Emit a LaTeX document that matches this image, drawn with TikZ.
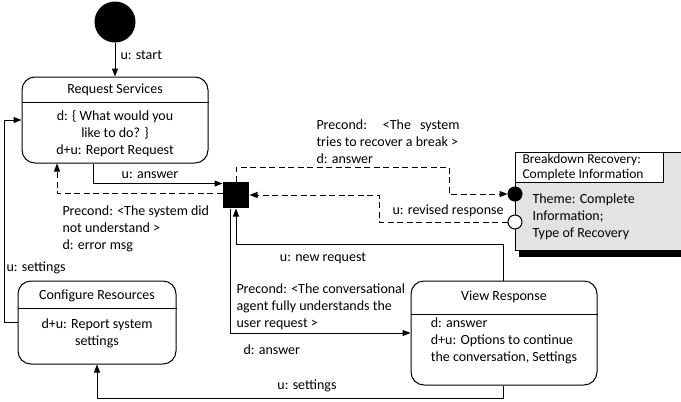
\documentclass[tikz,border=0pt]{standalone}
\usepackage{fontspec}
\setmainfont{Carlito}
\usetikzlibrary{arrows.meta}
\begin{document}
\begin{tikzpicture}[x=1pt,y=-1pt,
  line width=1pt,
  arr/.style={-{Triangle[length=8pt,width=6pt]}},
  darr/.style={arr, dash pattern=on 6pt off 3.5pt},
  lbl/.style={font=\fontsize{14}{17}\selectfont, inner sep=0pt},
  state/.style={draw, rounded corners=13pt, fill=white},
  pseudo/.style={fill=black, inner sep=0pt},
]
\path[use as bounding box] (0,0) rectangle (681,402);

% initial pseudo-state and junction
\node[pseudo, circle, minimum size=41pt] (init) at (115,22) {};
\node[pseudo, rectangle, minimum size=26pt] (sq) at (236,195) {};

% Request Services
\node[state, minimum width=186pt, minimum height=86pt] (rs) at (115,120) {};
\draw (rs.west |- 0,102) -- (rs.east |- 0,102);
\node[lbl] (rst) at (115,90) {Request Services};
\node[lbl, align=center] (rsb) at (115,134) {d: \{ What would you\\like to do? \}\\d+u: Report Request};

% Configure Resources
\node[state, minimum width=158pt, minimum height=83pt] (cr) at (97,322.5) {};
\draw (cr.west |- 0,308) -- (cr.east |- 0,308);
\node[lbl] (crt) at (97,296) {Configure Resources};
\node[lbl, align=center] (crb) at (97,333.5) {d+u: Report system\\settings};

% View Response
\node[state, minimum width=186pt, minimum height=104pt] (vr) at (504,333) {};
\draw (vr.west |- 0,314) -- (vr.east |- 0,314);
\node[lbl] (vrt) at (504,297) {View Response};
\node[lbl, align=left] (vrb) at (504,341) {d: answer\\d+u: Options to continue\\the conversation, Settings};

% Breakdown Recovery sub-machine, open towards the right edge
\fill (519,250) rectangle (681,257);
\fill[gray!22] (515,152) rectangle (681,250);
\draw (681,152) -- (515,152) -- (515,250) -- (681,250);
\node[draw, fill=white, minimum width=148pt, minimum height=30pt, anchor=north west, inner sep=0pt] (bdt) at (515,152) {};
\node[lbl, font=\fontsize{13.5}{15}\selectfont, align=left, anchor=west] (bdtt) at (522,167) {Breakdown Recovery:\\Complete Information};
\node[lbl, align=left, anchor=west] (bdb) at (532,216.5) {Theme: Complete\\Information;\\Type of Recovery};
\node[draw, circle, fill=black, minimum size=14pt, inner sep=0pt] (fc) at (515,194) {};
\node[draw, circle, fill=white, minimum size=14pt, inner sep=0pt] (oc) at (515,222) {};

% bend points
\coordinate (b1) at (449,167);
\coordinate (b2) at (379,222);
\coordinate (b3) at (236,244);

% transitions
\draw[arr] (init.south) -- (rs.north);
\draw[arr] ([xshift=-22pt]rs.south) |- ([yshift=-2pt]sq.north west);
\draw[darr] ([yshift=2pt]sq.west) -| ([xshift=-58pt]rs.south);
\draw[darr] (sq.north) |- (b1) |- (fc.west);
\draw[darr] (oc.west) -- (b2) |- (sq.east);
\draw[arr] ([xshift=-1pt]vr.north) |- (b3) -- (sq.south);
\draw[arr] ([xshift=-6pt]sq.south) |- (vr.west);
\draw[arr] ([xshift=-1pt]vr.south) -- ++(0,13) -| (cr.south);
\draw[arr] (cr.west) -- ++(-13,0) |- (rs.west);

% transition labels
\node[lbl, anchor=west] (l1) at (120,55) {u: start};
\node[lbl] (l2) at (150,175) {u: answer};
\node[lbl, align=left, anchor=west] (l3) at (62,229) {Precond: <The system did\\not understand >\\d: error msg};
\node[lbl, align=left, anchor=west] (l4) at (316,141.5) {\makebox[143pt][s]{Precond: <The system}\\tries to recover a break >\\d: answer};
\node[lbl, anchor=west] (l5) at (392,211) {u: revised response};
\node[lbl] (l6) at (323,258) {u: new request};
\node[lbl, align=left, anchor=west] (l7) at (236,307) {Precond: <The conversational\\agent fully understands the\\user request >};
\node[lbl, anchor=west] (l8) at (243,350) {d: answer};
\node[lbl, anchor=west] (l9) at (6,268) {u: settings};
\node[lbl] (l10) at (307,386) {u: settings};
\end{tikzpicture}
\end{document}
